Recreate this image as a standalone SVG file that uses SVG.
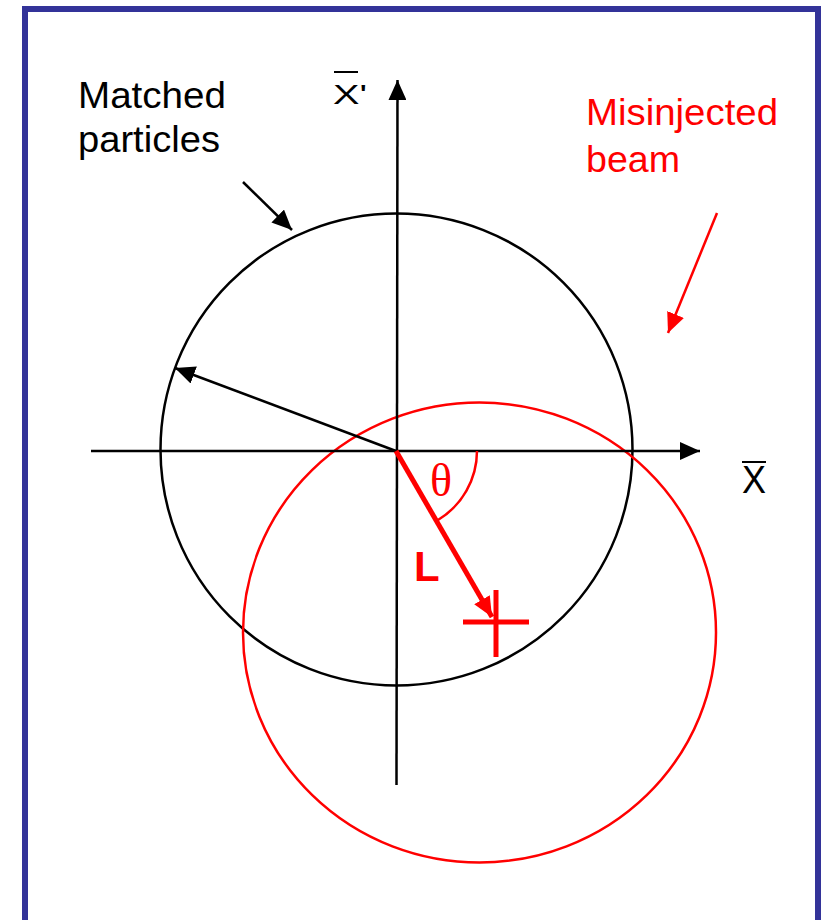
<svg xmlns="http://www.w3.org/2000/svg" width="821" height="920" viewBox="0 0 821 920">
<style>
.k{stroke:#000;fill:none;stroke-width:2.5}
.r{stroke:#f00;fill:none;stroke-width:2.5}
.t{font-family:"Liberation Sans",Arial,sans-serif;font-size:37px}
</style>
<defs>
<marker id="akb" markerWidth="20" markerHeight="18" refX="20" refY="9" orient="auto" markerUnits="userSpaceOnUse"><path d="M0,0 L20,9 L0,18 z" fill="#000"/></marker>
<marker id="ar" markerWidth="20" markerHeight="18" refX="20" refY="9" orient="auto" markerUnits="userSpaceOnUse"><path d="M0,0 L20,9 L0,18 z" fill="#f00"/></marker>
</defs>
<rect x="25" y="9" width="793" height="960" fill="#fff" stroke="#333399" stroke-width="6"/>
<g id="matched-circle"><circle cx="396.5" cy="449.5" r="236" class="k"/></g>
<g id="misinjected-circle"><ellipse cx="479.5" cy="632.5" rx="236.5" ry="230" class="r"/></g>
<g id="connectors">
<line x1="91" y1="451" x2="700" y2="451" class="k" stroke-width="3" marker-end="url(#akb)"/>
<line x1="396.5" y1="785" x2="397.5" y2="80" class="k" stroke-width="3" marker-end="url(#akb)"/>
<line x1="396" y1="451" x2="175" y2="368" class="k" stroke-width="3" marker-end="url(#akb)"/>
<line x1="243" y1="182" x2="292" y2="230" class="k" stroke-width="3" marker-end="url(#akb)"/>
<line x1="717" y1="213" x2="668" y2="333" class="r" stroke-width="3" marker-end="url(#ar)"/>
<path d="M477,451 A81,81 0 0 1 438,520" class="r"/>
<line x1="396" y1="451" x2="492" y2="617" stroke="#f00" stroke-width="5" marker-end="url(#ar)"/>
</g>
<g id="cross"><line x1="463" y1="622" x2="529" y2="622" stroke="#f00" stroke-width="5"/><line x1="496" y1="590" x2="496" y2="657" stroke="#f00" stroke-width="5"/></g>
<g id="labels">
<text class="t" x="78" y="108" textLength="148" lengthAdjust="spacingAndGlyphs">Matched</text>
<text class="t" x="78" y="152" textLength="142" lengthAdjust="spacingAndGlyphs">particles</text>
<text class="t" x="586" y="125" fill="#f00" textLength="192" lengthAdjust="spacingAndGlyphs">Misinjected</text>
<text class="t" x="586" y="172" fill="#f00" textLength="94" lengthAdjust="spacingAndGlyphs">beam</text>
<text class="t" x="333" y="104" style="font-size:28px" textLength="34" lengthAdjust="spacingAndGlyphs">X'</text>
<line x1="334" y1="72" x2="358" y2="72" stroke="#000" stroke-width="2"/>
<text class="t" x="742" y="493" style="font-size:38px" textLength="24" lengthAdjust="spacingAndGlyphs">X</text>
<line x1="742" y1="462" x2="766" y2="462" stroke="#000" stroke-width="2"/>
<text x="430" y="496" font-family="'Liberation Serif',serif" font-size="46" fill="#f00">θ</text>
<text x="414" y="581" font-family="'Liberation Sans',Arial,sans-serif" font-size="42" font-weight="bold" fill="#f00">L</text>
</g>
</svg>
